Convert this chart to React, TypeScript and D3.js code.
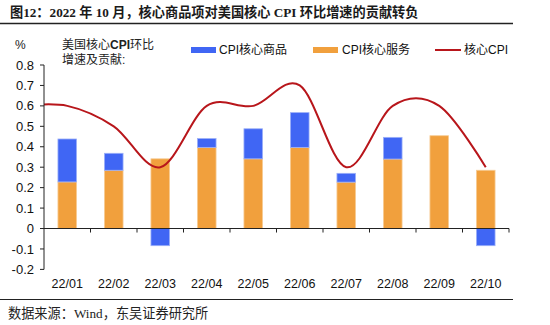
import React from "react";
import * as d3 from "d3";

const categories = ["22/01", "22/02", "22/03", "22/04", "22/05", "22/06", "22/07", "22/08", "22/09", "22/10"];
const goods = [0.21, 0.083, -0.084, 0.043, 0.147, 0.17, 0.043, 0.106, 0, -0.084];
const services = [0.228, 0.285, 0.341, 0.397, 0.341, 0.397, 0.227, 0.34, 0.454, 0.285];
// core CPI MoM; first value (21/12) sits left of the plot and is clipped
const coreLabels = ["21/12", ...categories];
const core = [0.6, 0.6, 0.5, 0.3, 0.6, 0.6, 0.7, 0.3, 0.6, 0.6, 0.3];
const yTicks = [-0.2, -0.1, 0, 0.1, 0.2, 0.3, 0.4, 0.5, 0.6, 0.7, 0.8];

const BLUE = "#4066F4";
const ORANGE = "#F1A03D";
const RED = "#B8161B";

export default function App() {
  const left = 44, right = 509, top = 65, bottom = 269.4;
  const x = d3.scaleBand<string>().domain(categories).range([left, right]).paddingInner(0.6).paddingOuter(0.3);
  const band = (right - left) / categories.length;
  const y = d3.scaleLinear().domain([-0.2, 0.8]).range([bottom, top]);
  const cx = (i: number) => left + band * (i - 0.5); // index in core array, 0 => 21/12
  const line = d3
    .line<number>()
    .x((_, i) => cx(i))
    .y((d) => y(d))
    .curve(d3.curveCardinal.tension(0));
  const axisFont = "Liberation Sans, Arial, sans-serif";
  const cjk = "Liberation Sans, 'Noto Sans CJK SC', sans-serif";

  return (
    <svg width={550} height={325} style={{ position: "absolute", left: 0, top: 0, background: "#fff" }}>
      <defs>
        <clipPath id="plot">
          <rect x={left} y={top - 40} width={right - left} height={bottom - top + 60} />
        </clipPath>
      </defs>
      {/* title */}
      <text x={10} y={17} fontFamily="'Liberation Serif', 'Noto Sans CJK SC', serif" fontWeight={700} fontSize={13.2} fill="#1a1a1a">
        图12：2022 年 10 月，核心商品项对美国核心 CPI 环比增速的贡献转负
      </text>
      <line x1={0} x2={513} y1={23.5} y2={23.5} stroke="#222" strokeWidth={1.5} />

      {/* annotations */}
      <text x={15} y={49} fontFamily={cjk} fontSize={12} fill="#222">%</text>
      <text x={62} y={49} fontFamily={cjk} fontSize={12} fill="#222">美国核心<tspan fontWeight={700}>CPI</tspan>环比</text>
      <text x={62} y={64} fontFamily={cjk} fontSize={12} fill="#222">增速及贡献:</text>

      {/* legend */}
      <rect x={191} y={47} width={25} height={6} fill={BLUE} />
      <text x={219} y={54} fontFamily={cjk} fontSize={12} fill="#111">CPI核心商品</text>
      <rect x={313} y={47} width={25} height={6} fill={ORANGE} />
      <text x={342} y={54} fontFamily={cjk} fontSize={12} fill="#111">CPI核心服务</text>
      <line x1={435} x2={461} y1={50} y2={50} stroke={RED} strokeWidth={2} />
      <text x={464} y={54} fontFamily={cjk} fontSize={12} fill="#111">核心CPI</text>

      {/* bars */}
      {categories.map((c, i) => {
        const s = services[i];
        const g = goods[i];
        const bx = x(c)!;
        const bw = x.bandwidth();
        const gy0 = g >= 0 ? s : 0;
        const gy1 = g >= 0 ? s + g : g;
        return (
          <g key={c}>
            <rect x={bx} y={y(s)} width={bw} height={y(0) - y(s)} fill={ORANGE} stroke="#F7CB93" strokeWidth={0.8} />
            {g !== 0 && (
              <rect
                x={bx}
                y={y(Math.max(gy0, gy1))}
                width={bw}
                height={Math.abs(y(gy0) - y(gy1))}
                fill={BLUE}
                stroke="#9CB0F8"
                strokeWidth={0.8}
              />
            )}
          </g>
        );
      })}

      {/* core CPI line */}
      <path d={line(core) || ""} fill="none" stroke={RED} strokeWidth={2} clipPath="url(#plot)" />

      {/* y axis */}
      <line x1={left} x2={left} y1={top} y2={bottom} stroke="#222" strokeWidth={1} />
      {yTicks.map((t) => (
        <g key={t}>
          <line x1={left - 4} x2={left} y1={y(t)} y2={y(t)} stroke="#222" />
          <text x={34} y={y(t)} dy="0.35em" textAnchor="end" fontFamily={axisFont} fontSize={13} fill="#111">
            {t === 0 ? "0" : t.toFixed(1)}
          </text>
        </g>
      ))}

      {/* x axis */}
      <line x1={left} x2={right} y1={y(0)} y2={y(0)} stroke="#222" strokeWidth={1.2} />
      {categories.map((c, i) => (
        <g key={c}>
          <line x1={left + band * (i + 1)} x2={left + band * (i + 1)} y1={y(0)} y2={y(0) + 4} stroke="#222" />
          <text x={x(c)! + x.bandwidth() / 2} y={288} textAnchor="middle" fontFamily={axisFont} fontSize={12.5} fill="#111">
            {c}
          </text>
        </g>
      ))}

      {/* footer */}
      <line x1={0} x2={513} y1={299.5} y2={299.5} stroke="#222" strokeWidth={1.2} />
      <text x={8} y={318} fontFamily="'Liberation Serif', 'Noto Sans CJK SC', serif" fontSize={13.2} fill="#222">
        数据来源：Wind，东吴证券研究所
      </text>
    </svg>
  );
}
